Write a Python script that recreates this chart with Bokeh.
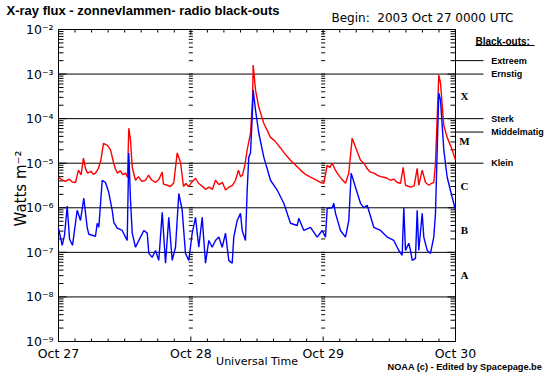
import numpy as np
from bokeh.plotting import figure
from bokeh.models import Range1d
from bokeh.core.properties import value
from bokeh.embed import file_html
from bokeh.resources import INLINE

# ---------------- data (hours since 2003 Oct 27 00:00 UTC, flux W m^-2) ----------------
red_hours = [0.0, 0.6, 1.27, 1.9, 2.5, 3.08, 3.63, 4.1, 4.53, 4.9, 5.26, 5.9, 6.3, 6.71, 7.25, 7.7,
             8.16, 8.6, 8.89, 9.43, 9.97, 10.3, 10.7, 11.2, 11.7, 12.15, 12.51, 12.75, 13.06, 13.37,
             13.96, 14.5, 15.1, 15.78, 16.32, 16.9, 17.59, 18.2, 18.81, 19.04, 19.7, 20.31, 20.9,
             21.53, 22.13, 22.67, 23.1, 23.58, 24.3, 24.85, 25.39, 26.0, 26.66, 27.3, 27.93, 28.47,
             29.1, 29.74, 30.29, 30.9, 31.56, 32.1, 32.64, 33.0, 33.37, 33.8, 34.22, 34.82, 35.18,
             35.31, 35.73, 36.33, 37.23, 38.45, 39.3, 40.26, 41.1, 42.07, 43.0, 43.89, 44.8, 45.7,
             46.6, 47.52, 48.11, 48.73, 49.2, 49.64, 50.1, 50.54, 51.3, 52.05, 52.65, 53.26, 53.86,
             54.77, 55.37, 56.0, 56.58, 57.2, 57.8, 58.4, 59.0, 59.6, 60.21, 60.8, 61.43, 62.02,
             62.51, 62.93, 63.84, 64.5, 65.05, 65.34, 65.96, 66.56, 67.16, 67.6, 68.06, 68.37, 68.68,
             68.97, 69.28, 69.88, 70.49, 71.4, 72.0]
red_flux = [4.8e-6, 4.3e-6, 3.9e-6, 4.4e-6, 3.8e-6, 3.7e-6, 7.0e-6, 5.5e-6, 1.3e-5, 7.5e-6, 6.0e-6,
            6.6e-6, 5.6e-6, 6.0e-6, 7.7e-6, 1.2e-5, 2.8e-5, 2.6e-5, 2.5e-5, 2.0e-5, 1.05e-5, 7.5e-6,
            6.0e-6, 6.8e-6, 5.5e-6, 6.0e-6, 4.8e-6, 6.1e-5, 3.3e-5, 8.1e-6, 4.15e-6, 5.0e-6, 3.9e-6,
            4.15e-6, 5.4e-6, 4.2e-6, 3.7e-6, 4.3e-6, 6.3e-6, 3.4e-6, 3.2e-6, 3.0e-6, 3.6e-6, 1.7e-5,
            1.05e-5, 3.0e-6, 3.5e-6, 3.0e-6, 3.9e-6, 4.6e-6, 3.55e-6, 3.1e-6, 2.6e-6, 2.9e-6, 2.6e-6,
            4.15e-6, 3.3e-6, 3.7e-6, 2.5e-6, 2.9e-6, 3.2e-6, 4.15e-6, 7.0e-6, 5.0e-6, 5.4e-6, 9.0e-6,
            2.0e-5, 4.7e-5, 2.6e-4, 1.6e-3, 4.4e-4, 1.8e-4, 7.9e-5, 3.8e-5, 3.1e-5, 2.2e-5, 1.6e-5,
            1.17e-5, 9.0e-6, 7.0e-6, 5.6e-6, 4.85e-6, 4.3e-6, 3.7e-6, 3.55e-6, 9.0e-6, 8.0e-6, 1.0e-5,
            7.5e-6, 6.0e-6, 4.5e-6, 3.55e-6, 6.0e-6, 3.65e-5, 2.3e-5, 1.17e-5, 1.0e-5, 7.5e-6, 6.3e-6,
            6.0e-6, 5.4e-6, 5.0e-6, 4.85e-6, 4.6e-6, 4.15e-6, 4.4e-6, 3.7e-6, 3.55e-6, 8.1e-6, 3.2e-6,
            2.9e-6, 3.1e-6, 7.7e-6, 3.2e-6, 7.0e-6, 3.7e-6, 3.2e-6, 3.5e-6, 3.7e-6, 1.0e-5, 1.08e-4,
            9.5e-4, 6.3e-4, 7.0e-5, 3.8e-5, 2.0e-5, 1.17e-5]

blue_hours = [0.0, 0.67, 1.09, 1.58, 2.0, 2.54, 3.39, 3.99, 4.59, 5.2, 5.5, 6.71, 7.02, 7.31, 7.93,
              8.52, 9.12, 9.74, 10.03, 10.65, 11.55, 12.15, 12.46, 12.75, 13.06, 13.37, 13.96, 14.87,
              15.47, 16.09, 16.38, 16.99, 17.59, 18.19, 18.81, 19.41, 20.0, 20.62, 21.22, 21.82, 22.43,
              23.03, 23.63, 24.25, 24.85, 25.44, 26.06, 26.66, 27.26, 27.87, 28.47, 29.07, 29.69,
              30.29, 30.88, 31.5, 31.79, 32.41, 33.01, 33.32, 33.91, 34.22, 34.51, 34.82, 35.13,
              35.31, 35.73, 36.33, 37.23, 38.45, 39.66, 40.86, 42.07, 43.29, 43.58, 44.49, 45.7,
              46.92, 47.82, 48.42, 48.73, 49.64, 49.93, 50.24, 51.14, 52.05, 52.65, 53.08, 53.86,
              54.77, 55.37, 55.98, 57.18, 58.4, 59.61, 60.81, 61.72, 62.33, 62.62, 62.93, 63.53,
              63.84, 64.15, 64.74, 65.05, 65.34, 65.96, 66.25, 66.87, 67.46, 68.06, 68.37, 68.68,
              68.97, 69.28, 69.88, 70.49, 71.4, 72.0]
blue_flux = [3.5e-7, 1.44e-7, 2.4e-7, 1.1e-6, 2.0e-7, 1.44e-7, 8.8e-7, 5.2e-7, 1.64e-6, 3.65e-7,
             2.55e-7, 2.3e-7, 4.5e-7, 3.65e-7, 4.15e-6, 3.7e-6, 2.2e-6, 8.8e-7, 4.7e-7, 3.5e-7,
             3.1e-7, 2.2e-7, 1.85e-7, 1.7e-5, 1.48e-6, 2.7e-7, 1.3e-7, 2.2e-7, 3.1e-7, 2.7e-7,
             9.5e-8, 7.7e-8, 1.1e-7, 6.6e-8, 7.9e-7, 5.7e-8, 6.1e-7, 6.6e-8, 1.3e-7, 2.1e-6, 8.8e-7,
             9.5e-8, 6.6e-8, 2.7e-7, 6.1e-7, 1.3e-7, 6.1e-7, 5.7e-8, 1.85e-7, 1.3e-7, 1.85e-7,
             2.2e-7, 1.3e-7, 2.7e-7, 6.6e-8, 5.7e-8, 2.2e-7, 5.2e-7, 7.5e-7, 3.1e-7, 1.85e-7, 2.5e-6,
             1.37e-5, 1.7e-5, 1.08e-4, 4.4e-4, 1.55e-4, 4.7e-5, 1.37e-5, 4.15e-6, 2.5e-6, 1.26e-6,
             4.5e-7, 4.0e-7, 5.8e-7, 3.1e-7, 3.65e-7, 2.2e-7, 3.1e-7, 2.2e-7, 9.7e-7, 1.0e-6, 1.26e-6,
             7.5e-7, 3.1e-7, 2.2e-7, 5.2e-7, 6.0e-6, 2.9e-6, 1.26e-6, 1.0e-6, 1.14e-6, 3.65e-7,
             3.1e-7, 2.2e-7, 1.85e-7, 1.1e-7, 8.6e-8, 1.0e-6, 1.1e-7, 1.6e-7, 1.1e-7, 6.6e-8, 7.3e-8,
             8.8e-7, 1.1e-7, 7.5e-7, 2.2e-7, 1.1e-7, 9.5e-8, 2.2e-7, 7.5e-7, 2.0e-5, 3.75e-4, 2.6e-4,
             2.0e-5, 4.85e-6, 1.72e-6, 8.8e-7]

day_ticks = [0, 24, 48, 72]
day_labels = ["Oct 27", "Oct 28", "Oct 29", "Oct 30"]
hour_minor = [h for h in range(0, 73, 3) if h % 24 != 0]
decade_exp = [-9, -8, -7, -6, -5, -4, -3, -2]
decade_labels = ["10⁻⁹", "10⁻⁸", "10⁻⁷", "10⁻⁶", "10⁻⁵", "10⁻⁴", "10⁻³", "10⁻²"]
blackout_levels = [2e-3, 1e-3, 1e-4, 5e-5, 1e-5]
blackout_names = ["Extreem", "Ernstig", "Sterk", "Middelmatig", "Klein"]
class_letters = ["A", "B", "C", "M", "X"]
class_lower = [1e-8, 1e-7, 1e-6, 1e-5, 1e-4]

# ---------------- layout (canvas pixels) ----------------
W, H = 550, 375
FL, FT, FW, FH = 58, 29, 397, 312          # the plot box inside the canvas
X0, X1 = 0.0, 72.0                         # hours shown in the box
LY0, LY1 = -9.0, -2.0                      # log10 flux shown in the box


def hx(fx):
    return X0 + (fx - FL) * (X1 - X0) / FW


def vy(fy):
    return 10 ** (LY1 - (fy - FT) * (LY1 - LY0) / FH)


decades = [10.0 ** e for e in decade_exp]
minor_log = [k * 10.0 ** e for e in decade_exp[:-1] for k in range(2, 10)]
YB, YT = decades[0], decades[-1]

p = figure(width=W, height=H, min_border=0, x_range=Range1d(hx(0), hx(W)),
           y_range=Range1d(vy(H), vy(0)), y_axis_type="log", x_axis_location=None,
           y_axis_location=None, output_backend="svg", toolbar_location=None)
p.background_fill_color = "white"
p.border_fill_color = "white"
p.outline_line_color = None
p.grid.visible = False

K = "black"
TICK = dict(length_units="screen", line_color=K, line_width=1)

# grid lines at the decades and the plot box
inner = decades[1:-1]
p.segment(x0=[X0] * len(inner), x1=[X1] * len(inner), y0=inner, y1=inner, line_color=K, line_width=1)
p.quad(left=[X0], right=[X1], bottom=[YB], top=[YT], fill_color=None, line_color=K, line_width=1)

# left / right log ticks
p.ray(x=[X0] * len(decades), y=decades, length=8, angle=0, **TICK)
p.ray(x=[X0] * len(minor_log), y=minor_log, length=5, angle=0, **TICK)
p.ray(x=[X1] * len(decades), y=decades, length=8, angle=np.pi, **TICK)
p.ray(x=[X1] * len(minor_log), y=minor_log, length=5, angle=np.pi, **TICK)
# bottom / top time ticks
p.ray(x=day_ticks, y=[YB] * len(day_ticks), length=5, angle=np.pi / 2, **TICK)
p.ray(x=hour_minor, y=[YB] * len(hour_minor), length=3, angle=np.pi / 2, **TICK)
p.ray(x=day_ticks, y=[YT] * len(day_ticks), length=5, angle=-np.pi / 2, **TICK)
p.ray(x=hour_minor, y=[YT] * len(hour_minor), length=3, angle=-np.pi / 2, **TICK)
# tick columns at the day boundaries
col_x = [d for d in day_ticks[1:-1] for _ in decades + minor_log]
col_y = [v for _ in day_ticks[1:-1] for v in decades + minor_log]
p.ray(x=col_x, y=col_y, length=2, angle=0, **TICK)
p.ray(x=col_x, y=col_y, length=2, angle=np.pi, **TICK)

# tick labels
TF = value("DejaVu Sans")
p.text(x=day_ticks, y=[vy(345)] * len(day_ticks), text=day_labels, text_font=TF,
       text_font_size="12.5px", text_align="center", text_baseline="top", text_color=K)
p.text(x=[X0] * len(decades), y=decades, text=decade_labels, x_offset=-5, text_font=TF,
       text_font_size="12.5px", text_align="right", text_baseline="middle", text_color=K)

# data
p.line(red_hours, red_flux, line_color="#ff0000", line_width=1.4)
p.line(blue_hours, blue_flux, line_color="#0000ff", line_width=1.4)

# right-hand side: black-out levels and flare classes
p.ray(x=[X1] * len(blackout_levels), y=blackout_levels, length=28, angle=0, **TICK)
p.text(x=[X1] * len(blackout_levels), y=blackout_levels, text=blackout_names, x_offset=35.7,
       text_font=value("Liberation Sans"), text_font_size="9px", text_font_style="bold",
       text_baseline="middle", text_color=K)
class_mid = [c * 10 ** 0.5 for c in class_lower]
p.text(x=[X1] * len(class_letters), y=class_mid, text=class_letters, x_offset=9,
       text_font=value("Liberation Serif"), text_font_size="11px", text_font_style="bold",
       text_align="center", text_baseline="middle", text_color=K)


# titles and other texts (positions in canvas pixels)
def add_text(fx, fy, text, size, font="DejaVu Sans", style="normal", align="left",
             baseline="middle", angle=0.0):
    p.text(x=[hx(fx)], y=[vy(fy)], text=[text], text_font=value(font), text_font_size=size,
           text_font_style=style, text_align=align, text_baseline=baseline, angle=angle,
           text_color=K)


add_text(6, 2, "X-ray flux - zonnevlammen- radio black-outs", "13px", font="Liberation Sans",
         style="bold", baseline="top")
add_text(331, 17.5, "Begin:\u00a0\u00a02003 Oct 27 0000 UTC", "12px")
add_text(20, 188, "Watts m⁻²", "15px", align="center", angle=np.pi / 2)
add_text(256.5, 361, "Universal Time", "11px", align="center")
add_text(387, 366, "NOAA (c) - Edited by Spacepage.be", "9.2px", font="Liberation Sans", style="bold")
add_text(475, 40.7, "Black-outs:", "10px", font="Liberation Sans", style="bold")
p.segment(x0=[hx(475)], x1=[hx(534)], y0=[vy(45)], y1=[vy(45)], line_color=K, line_width=1)

open("out.html", "w").write(file_html(p, INLINE))
